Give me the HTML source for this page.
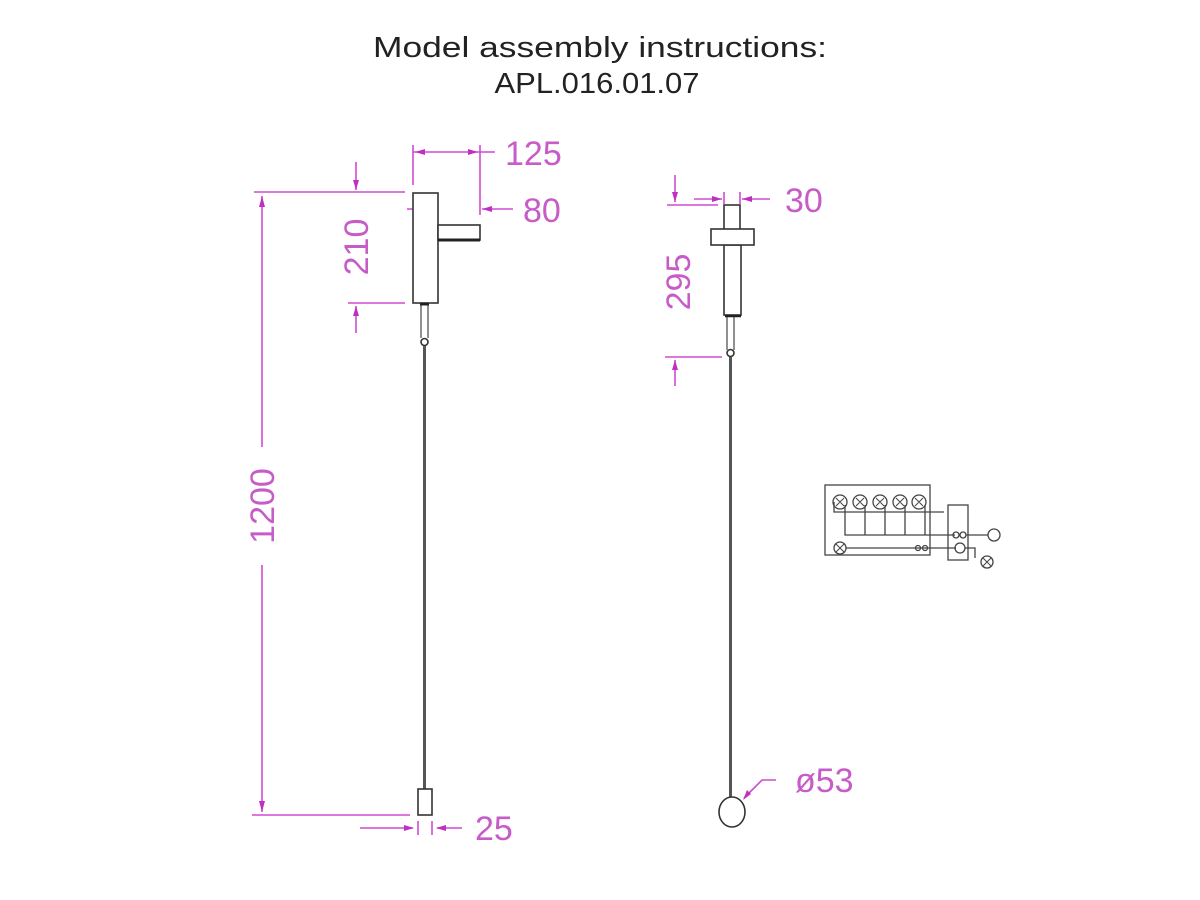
<!DOCTYPE html>
<html><head><meta charset="utf-8"><style>
html,body{margin:0;padding:0;background:#fff;}
svg{display:block;}
.m{stroke:#d04ad0;stroke-width:1.6;fill:none;}
.ma{fill:#c030c0;stroke:none;}
.d{stroke:#333;stroke-width:1.6;fill:#fff;}
.dt{fill:#c75bc7;font-family:"Liberation Sans",sans-serif;font-size:34px;}
.w{stroke:#444;stroke-width:1.3;fill:none;}
</style></head><body>
<svg width="1200" height="900" viewBox="0 0 1200 900" xmlns="http://www.w3.org/2000/svg">
<rect width="1200" height="900" fill="#fff"/>
<text x="600" y="57" text-anchor="middle" font-family="Liberation Sans,sans-serif" font-size="29" fill="#222" textLength="454" lengthAdjust="spacingAndGlyphs">Model assembly instructions:</text>
<text x="597" y="93" text-anchor="middle" font-family="Liberation Sans,sans-serif" font-size="29" fill="#222" textLength="205" lengthAdjust="spacingAndGlyphs">APL.016.01.07</text>

<!-- LEFT LAMP -->
<!-- 1200 dimension -->
<line class="m" x1="254" y1="192" x2="405" y2="192"/>
<line class="m" x1="252" y1="815" x2="410" y2="815"/>
<line class="m" x1="262" y1="196" x2="262" y2="447"/>
<line class="m" x1="262" y1="565" x2="262" y2="812"/>
<polygon class="ma" points="262,196 259,207 265,207"/>
<polygon class="ma" points="262,812 259,801 265,801"/>
<text class="dt" transform="translate(274,506) rotate(-90)" text-anchor="middle">1200</text>

<!-- 210 dimension -->
<line class="m" x1="356" y1="162" x2="356" y2="190"/>
<polygon class="ma" points="356,190 353,180 359,180"/>
<line class="m" x1="348" y1="303" x2="405" y2="303"/>
<line class="m" x1="356" y1="306" x2="356" y2="333"/>
<polygon class="ma" points="356,306 353,316 359,316"/>
<text class="dt" transform="translate(368,247) rotate(-90)" text-anchor="middle">210</text>

<!-- 125 -->
<line class="m" x1="413" y1="145" x2="413" y2="185"/>
<line class="m" x1="480" y1="145" x2="480" y2="215"/>
<line class="m" x1="413" y1="152" x2="495" y2="152"/>
<polygon class="ma" points="415,152 425,149 425,155"/>
<polygon class="ma" points="478,152 468,149 468,155"/>
<text class="dt" x="505" y="165">125</text>
<!-- 80 -->
<line class="m" x1="482" y1="209" x2="513" y2="209"/>
<polygon class="ma" points="482,209 492,206 492,212"/>
<line class="m" x1="407" y1="209" x2="436" y2="209"/>
<polygon class="ma" points="436,209 426,206 426,212"/>
<line class="m" x1="437" y1="200" x2="437" y2="218"/>
<text class="dt" x="523" y="222">80</text>

<!-- body -->
<rect class="d" x="413" y="193" width="25" height="110"/>
<rect class="d" x="438" y="225" width="42" height="15"/>
<line x1="438" y1="240" x2="480" y2="240" stroke="#222" stroke-width="3"/>
<line x1="421" y1="303" x2="421" y2="338" stroke="#555" stroke-width="1.3"/>
<line x1="428" y1="303" x2="428" y2="338" stroke="#555" stroke-width="1.3"/>
<line x1="420" y1="304" x2="429" y2="304" stroke="#222" stroke-width="3"/>
<circle cx="424.5" cy="342" r="3.5" class="d" stroke-width="1.3"/>
<line x1="424.5" y1="346" x2="424.5" y2="790" stroke="#555" stroke-width="3"/>
<rect class="d" x="418" y="789" width="14" height="26"/>
<!-- 25 -->
<line class="m" x1="360" y1="828" x2="413" y2="828"/>
<polygon class="ma" points="414,828 404,825 404,831"/>
<line class="m" x1="418" y1="821" x2="418" y2="835"/>
<line class="m" x1="432" y1="821" x2="432" y2="835"/>
<line class="m" x1="437" y1="828" x2="462" y2="828"/>
<polygon class="ma" points="436,828 446,825 446,831"/>
<text class="dt" x="475" y="840">25</text>

<!-- RIGHT LAMP -->
<line class="m" x1="675" y1="175" x2="675" y2="202"/>
<polygon class="ma" points="675,202 672,192 678,192"/>
<line class="m" x1="667" y1="205" x2="718" y2="205"/>
<line class="m" x1="694" y1="199" x2="722" y2="199"/>
<polygon class="ma" points="722,199 712,196 712,202"/>
<line class="m" x1="724" y1="192" x2="724" y2="204"/>
<line class="m" x1="740" y1="192" x2="740" y2="204"/>
<line class="m" x1="742" y1="199" x2="770" y2="199"/>
<polygon class="ma" points="742,199 752,196 752,202"/>
<text class="dt" x="785" y="212">30</text>
<text class="dt" transform="translate(690,282) rotate(-90)" text-anchor="middle">295</text>
<line class="m" x1="665" y1="357" x2="722" y2="357"/>
<line class="m" x1="675" y1="360" x2="675" y2="386"/>
<polygon class="ma" points="675,360 672,370 678,370"/>

<rect class="d" x="724" y="205" width="16" height="25"/>
<rect class="d" x="724" y="245" width="17" height="70"/>
<rect class="d" x="711" y="229" width="43" height="16"/>
<line x1="727" y1="315" x2="727" y2="350" stroke="#555" stroke-width="1.3"/>
<line x1="734" y1="315" x2="734" y2="350" stroke="#555" stroke-width="1.3"/>
<line x1="725" y1="316" x2="741" y2="316" stroke="#222" stroke-width="2.5"/>
<circle cx="730.5" cy="353" r="3.5" class="d" stroke-width="1.3"/>
<line x1="730.5" y1="357" x2="730.5" y2="798" stroke="#555" stroke-width="3"/>
<ellipse class="d" cx="732" cy="812" rx="13" ry="15"/>
<polyline class="m" points="744,798 762,780 776,780"/>
<polygon class="ma" points="743,800 747,790 751,794"/>
<text class="dt" x="795" y="792">ø53</text>

<!-- WIRING -->
<rect class="w" x="825" y="485" width="105" height="70"/>
<g class="w">
<circle cx="840" cy="502" r="7"/><circle cx="860" cy="502" r="7"/><circle cx="880" cy="502" r="7"/><circle cx="900" cy="502" r="7"/><circle cx="919" cy="502" r="7"/>
<circle cx="840" cy="548" r="6"/>
<path d="M834 502v10h110"/>
<path d="M845 505v30h110"/>
<path d="M865 505v30M885 505v30M905 505v30M925 505v30"/>
<path d="M846 548h110"/>
<rect x="948" y="505" width="20" height="55"/>
<circle cx="956" cy="535" r="3"/><circle cx="963" cy="535" r="3"/>
<circle cx="918" cy="548" r="2.5"/><circle cx="925" cy="548" r="2.5"/>
<circle cx="960" cy="548" r="5"/>
<path d="M966 535h22"/><circle cx="994" cy="535" r="6"/>
<path d="M965 548h10v10"/><circle cx="987" cy="562" r="6"/>
</g>
<g stroke="#444" stroke-width="1" fill="none">
<path d="M836 498l8 8M844 498l-8 8M856 498l8 8M864 498l-8 8M876 498l8 8M884 498l-8 8M896 498l8 8M904 498l-8 8M915 498l8 8M923 498l-8 8M836 544l8 8M844 544l-8 8M983 558l8 8M991 558l-8 8"/>
</g>
</svg>
</body></html>
